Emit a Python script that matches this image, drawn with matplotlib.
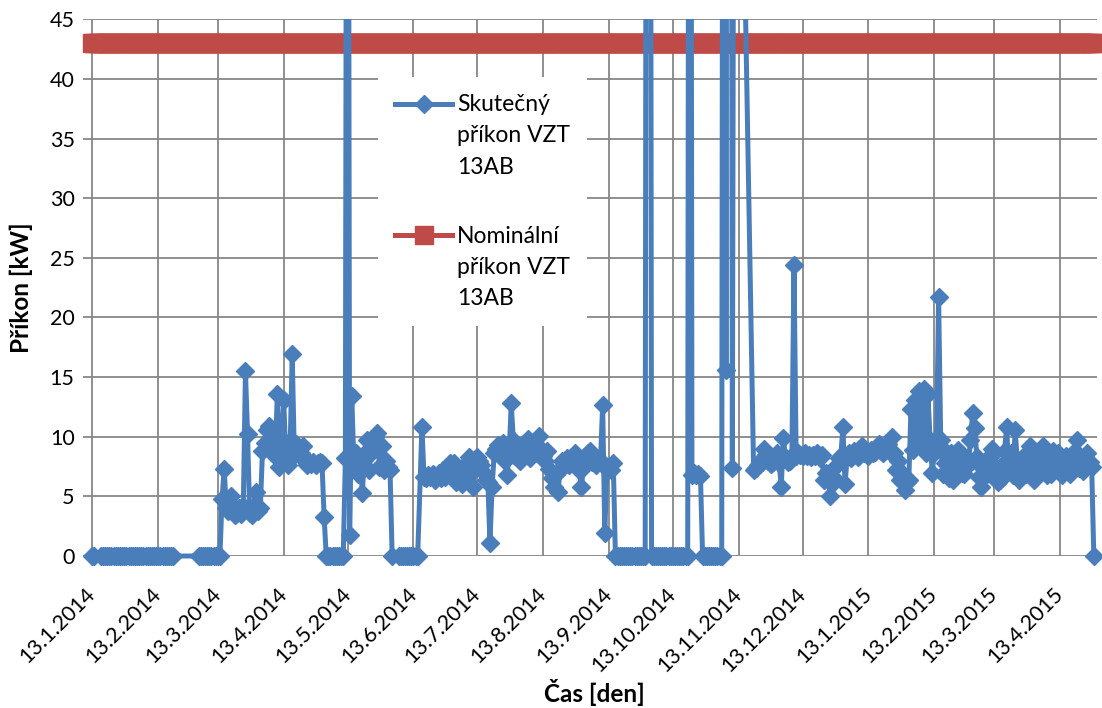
import numpy as np
import matplotlib
matplotlib.use("Agg")
import matplotlib.pyplot as plt
import matplotlib.dates as mdates
from matplotlib.transforms import Bbox, TransformedBbox

plt.rcParams['font.family'] = ['Lato', 'DejaVu Sans']

# ---------------- data ----------------
first_day = "2014-01-13"
last_day = "2015-04-29"
nominal_kw = 43.0

# measured power [kW]; each run holds consecutive days starting at its start date
seg_a_start = "2014-01-13"
seg_a = [0, 0]

seg_b_start = "2014-01-17"
seg_b = [0, 0, 0, 0, 0, 0, 0, 0, 0, 0, 0, 0, 0, 0, 0, 0, 0, 0, 0, 0,
         0, 0, 0, 0, 0, 0, 0, 0, 0, 0, 0, 0, 0, 0, 0]

seg_c_start = "2014-03-04"
seg_c = [0, 0, 0, 0, 0, 0, 0, 0, 0, 0, 0,
         4.8, 7.3, 4.0, 3.8, 5.0, 4.2, 3.4, 3.6, 4.0, 3.5, 4.2, 15.5, 10.2, 3.6,
         3.4, 4.2, 5.4, 3.8, 4.0, 8.8, 9.5, 10.6, 10.9, 10.0, 9.0, 8.4, 13.6, 7.5,
         9.8, 13.1, 8.2, 7.6, 9.0, 16.9, 8.5, 9.4, 9.0, 8.6, 9.2, 8.0, 7.6, 7.9,
         7.7, 7.9, 7.6, 7.8, 7.9, 7.8,
         3.3,
         0, 0, 0, 0, 0, 0, 0, 0, 0,
         8.2, 120.0, 1.8, 13.4,
         7.8, 8.6, 6.9, 7.6, 5.3, 8.6, 9.7, 7.2, 8.6, 9.4, 10.0, 10.3, 7.5, 9.2,
         7.2, 8.0, 7.5, 7.2,
         0]

seg_d_start = "2014-06-06"
seg_d = [0, 0, 0, 0, 0, 0, 0, 0, 0, 0]

seg_e_start = "2014-06-17"
seg_e = [10.8,
         6.6, 6.5, 6.8, 6.6, 6.9, 6.4, 6.6, 7.0, 6.5, 7.2, 6.6, 7.5, 7.8, 7.2, 7.8,
         6.2, 6.9, 7.3, 6.0, 6.6, 7.8, 8.3, 7.0, 5.8, 7.5, 8.3, 8.0, 7.6, 7.0, 6.4,
         6.2, 1.1, 5.8, 8.6, 9.0, 9.3, 8.9, 9.5, 8.0, 6.8, 8.4, 12.8, 9.7, 8.4, 9.0,
         8.0, 8.6, 9.4, 8.7, 9.8, 8.2, 9.0, 9.2, 8.6, 10.1, 9.0, 8.4, 8.0, 8.8, 7.3,
         6.5, 5.8, 6.9, 5.4, 7.2, 8.0, 7.8, 8.2, 7.6, 8.0, 8.4, 8.6, 7.9, 7.2, 5.8,
         7.5, 8.2, 8.6, 8.8, 7.9, 8.0, 7.6, 7.9, 8.0, 12.7, 1.9, 7.3, 7.5, 7.2, 7.8,
         0, 0, 0, 0, 0, 0, 0, 0, 0, 0, 0, 0, 0, 0, 0,
         150.0, 150.0,
         0, 0, 0, 0, 0, 0, 0, 0, 0, 0, 0, 0, 0, 0, 0, 0, 0, 0,
         150.0,
         6.8, 7.0, 6.8, 6.9, 6.7,
         0, 0, 0, 0, 0, 0, 0, 0, 0, 0,
         150.0, 15.6, 150.0, 150.0, 7.4, 98.0]

seg_f_start = "2014-11-20"
seg_f = [7.2, 7.4, 7.6, 8.0, 7.9, 9.0, 8.5, 8.0, 7.7, 7.9, 8.2, 8.6, 7.8, 5.8,
         9.9, 8.2, 7.9, 8.0, 8.4, 24.4, 8.4, 8.6, 8.5, 8.4, 8.6, 8.4, 8.5, 8.3,
         8.5, 8.4, 8.6, 8.2, 8.5, 6.4, 7.0, 6.6, 5.0, 6.0, 6.5, 7.6, 8.2, 8.4,
         10.8, 6.0, 8.3, 8.6, 8.2, 8.8, 8.5, 8.3, 8.7, 9.2, 8.6, 8.8, 8.4, 8.9,
         8.6, 8.7, 9.0, 9.4, 8.8, 8.6, 9.1, 9.4, 8.7, 10.0, 8.6, 7.2, 8.0, 6.4,
         7.0, 5.5, 6.2, 6.4, 12.3, 8.9, 13.1, 9.5, 13.8, 10.2, 14.0, 8.6, 13.6,
         9.7, 7.0, 8.6, 9.2, 21.7, 9.7, 6.9, 7.8, 8.6, 6.5, 8.6, 6.4, 7.7, 8.9,
         8.6, 7.0, 6.9, 8.2, 7.6, 9.7, 12.0, 10.7, 8.3, 6.6, 5.8, 7.4, 8.0, 6.9,
         7.8, 9.0, 8.6, 7.4, 6.2, 6.4, 7.6, 8.8, 10.8, 7.2, 8.6, 6.8, 10.6, 8.0,
         6.4, 7.8, 8.4, 6.9, 8.6, 9.2, 7.4, 6.4, 8.0, 8.8, 7.2, 9.2, 8.4, 6.8,
         7.9, 6.9, 8.8, 7.6, 8.6, 8.0, 6.8, 7.5, 8.4, 7.2, 6.9, 8.2, 8.8, 9.7,
         7.4, 8.0, 7.1, 8.3, 8.6, 7.9, 7.5, 0]

tick_dates = ["2014-01-13", "2014-02-13", "2014-03-13", "2014-04-13",
              "2014-05-13", "2014-06-13", "2014-07-13", "2014-08-13",
              "2014-09-13", "2014-10-13", "2014-11-13", "2014-12-13",
              "2015-01-13", "2015-02-13", "2015-03-13", "2015-04-13"]
tick_labels = ["13.1.2014", "13.2.2014", "13.3.2014", "13.4.2014",
               "13.5.2014", "13.6.2014", "13.7.2014", "13.8.2014",
               "13.9.2014", "13.10.2014", "13.11.2014", "13.12.2014",
               "13.1.2015", "13.2.2015", "13.3.2015", "13.4.2015"]
y_ticks = [0, 5, 10, 15, 20, 25, 30, 35, 40, 45]

series_actual = "Skutečný\npříkon VZT\n13AB"
series_nominal = "Nominální\npříkon VZT\n13AB"

# ---------------- assemble ----------------
runs = [(seg_a_start, seg_a), (seg_b_start, seg_b), (seg_c_start, seg_c),
        (seg_d_start, seg_d), (seg_e_start, seg_e), (seg_f_start, seg_f)]
blue_days = np.concatenate([np.datetime64(s) + np.arange(len(v)) for s, v in runs])
blue_vals = np.concatenate([np.asarray(v, dtype=float) for s, v in runs])
bx = mdates.date2num(blue_days)

all_days = np.arange(np.datetime64(first_day), np.datetime64(last_day) + 1)
rx = mdates.date2num(all_days)
ry = np.full(len(rx), nominal_kw)

base = mdates.date2num(np.datetime64(first_day))

W, H = 1102, 708
fig = plt.figure(figsize=(W / 100, H / 100), dpi=100)
L, R, T, B = 83, 1097, 19.3, 556
ax = fig.add_axes([L / W, 1 - B / H, (R - L) / W, (B - T) / H])

blue = '#4A7EBB'
red = '#BE4B48'

ln_blue, = ax.plot(bx, blue_vals, color=blue, lw=3.6, marker='D', ms=9.5,
                   mfc=blue, mec=blue, mew=1.0, zorder=4, label=series_actual)
ln_red, = ax.plot(rx, ry, color=red, lw=3.6, marker='s', ms=13,
                  mfc=red, mec=red, mew=1.0, zorder=3, label=series_nominal)

# let markers hang outside the plot area like in the original
ln_blue.set_clip_box(TransformedBbox(Bbox([[-0.02, -0.06], [1.02, 1.0]]), ax.transAxes))
ln_red.set_clip_box(TransformedBbox(Bbox([[-0.02, -0.06], [1.02, 1.0]]), ax.transAxes))

ax.set_xlim(base - 4.4, base + 472.5)
ax.set_ylim(0, 45)

ax.set_xticks(mdates.date2num(np.array(tick_dates, dtype='datetime64[D]')))
ax.set_xticklabels(tick_labels, rotation=45, ha='right', va='center',
                   rotation_mode='anchor', fontsize=15.5)
ax.set_yticks(y_ticks)
ax.set_yticklabels([str(v) for v in y_ticks], fontsize=15.5)
ax.tick_params(axis='x', length=0, pad=25)
ax.tick_params(axis='y', length=0, pad=6)

ax.set_axisbelow(True)
ax.grid(True, color='#878787', lw=1.3)
for s in ax.spines.values():
    s.set_visible(False)

ax.set_ylabel('Příkon [kW]', fontsize=17.5, fontweight='bold')
ax.yaxis.set_label_coords((33 - L) / (R - L), 0.5)
ax.set_xlabel('Čas [den]', fontsize=17.5, fontweight='bold', va='top')
ax.xaxis.set_label_coords((594 - L) / (R - L), (B - 679) / (B - T))

leg = ax.legend(loc='upper left', bbox_to_anchor=((378 - L) / (R - L), (B - 77) / (B - T)),
                borderaxespad=0, frameon=True, fancybox=False, framealpha=1,
                facecolor='white', edgecolor='none', fontsize=16.5,
                handlelength=2.5, handletextpad=0.2, labelspacing=2.1,
                borderpad=0.75, handleheight=1.1)
leg.set_zorder(6)
for t in leg.get_texts():
    t.set_linespacing(1.6)
for col in leg._legend_handle_box.get_children():
    for item in col.get_children():
        item.align = 'top'

fig.savefig('out.png', dpi=100)
